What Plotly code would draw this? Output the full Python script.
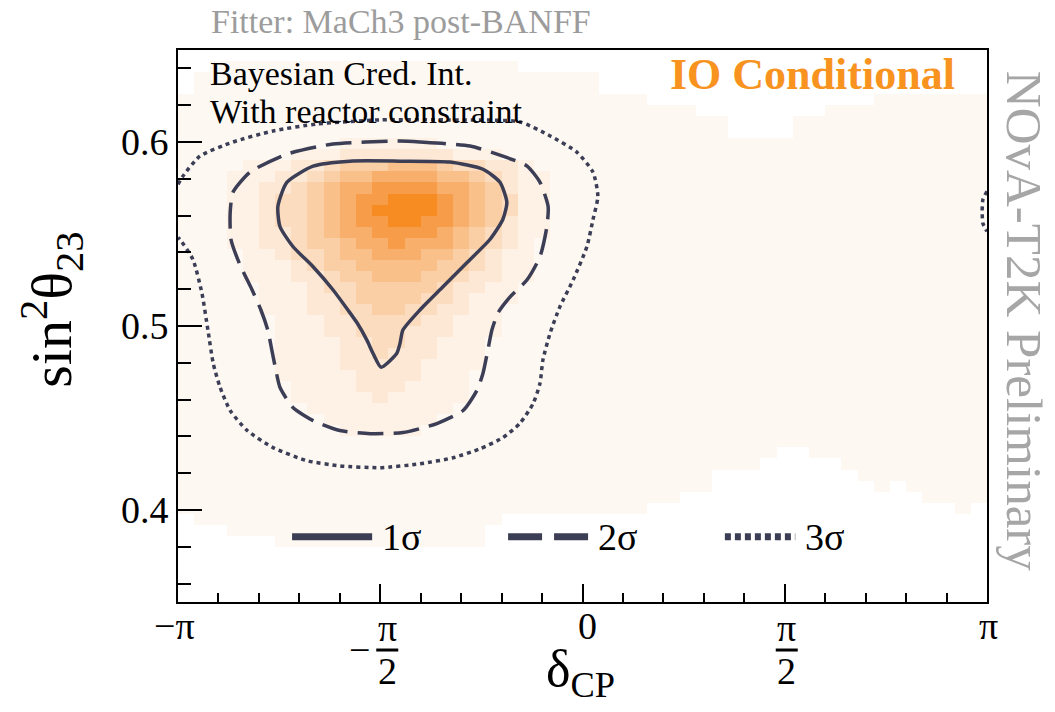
import numpy as np
import plotly.graph_objects as go

PI = np.pi

# Binned posterior: 50 x 50 bins, delta_CP in [-pi, pi], sin^2(theta_23) in [0.35, 0.65].
# Each character is a shade level, 0 = empty bin ... 9 = highest density.
# Rows go from the top bin (sin^2 0.644-0.650) down to the bottom bin (0.350-0.356),
# written in groups of ten bins.
density_rows = [
    "0000000000 0000000000 0000000000 0000000000 0000000000",
    "0011111111 1111111111 1000000000 0000000000 0000000000",
    "0111111111 1111111111 1111110000 0000000000 0000000000",
    "0111111111 1111111111 1111110000 0000000000 0000000000",
    "1111111111 1111111111 1111111110 0000000000 0001111111",
    "1111111111 1111111111 1111111111 1100000000 1111111111",
    "1111111111 1111111111 1111111111 1111000011 1111111111",
    "1111111111 1111111111 1111111111 1111000011 1111111111",
    "1111111111 2222221111 1111111111 1111111111 1111111111",
    "1111111222 3333333222 1111111111 1111111111 1111111111",
    "1111222334 5556665443 3211111111 1111111111 1111111111",
    "1112223345 6677776654 3221111111 1111111111 1111111111",
    "1112233456 7788887765 3221111111 1111111111 1111111111",
    "1112234456 7889998765 4221111111 1111111111 1111111111",
    "1112234456 7899998765 4221111111 1111111111 1111111111",
    "1112234456 7889988765 3221111111 1111111111 1111111111",
    "1112233456 7788887654 3221111111 1111111111 1111111111",
    "1112233455 6778777654 3211111111 1111111111 1111111111",
    "1111223445 6677766543 2211111111 1111111111 1111111111",
    "1111222345 5666665543 2211111111 1111111111 1111111111",
    "1111222334 5566655433 2211111111 1111111111 1111111111",
    "1111122234 4555554332 2111111111 1111111111 1111111111",
    "1111122233 4555544322 2111111111 1111111111 1111111111",
    "1111122233 4455443322 1111111111 1111111111 1111111111",
    "1111112223 3444433222 1111111111 1111111111 1111111111",
    "1111112223 3444333222 1111111111 1111111111 1111111111",
    "1111112222 3344332221 1111111111 1111111111 1111111111",
    "1111112222 3343332221 1111111111 1111111111 1111111111",
    "1111112222 3333322221 1111111111 1111111111 1111111111",
    "1111112222 2333322211 1111111111 1111111111 1111111111",
    "1111111222 2333222211 1111111111 1111111111 1111111111",
    "1111111222 2232222211 1111111111 1111111111 1111111111",
    "1111111122 2222222111 1111111111 1111111111 1111111111",
    "1111111112 2222221111 1111111111 1111111111 1111111111",
    "1111111111 2222211111 1111111111 1111111111 1111111111",
    "1111111111 1111111111 1111111111 1111111111 1111111111",
    "1111111111 1111111111 1111111111 1111111001 1111111111",
    "1111111111 1111111111 1111111111 1111110000 0111111111",
    "1111111111 1111111111 1111111111 1110000000 0011111111",
    "1111111111 1111111111 1111111111 1110000000 0001011111",
    "1111111111 1111111111 1111111111 1000000000 0000001111",
    "1111111111 1111111111 1111111110 0000000000 0000000010",
    "0111111111 1111111111 0000000000 0000000000 0000000000",
    "0001111111 1111111110 0000000000 0000000000 0000000000",
    "0000001111 1111111110 0000000000 0000000000 0000000000",
    "0000000000 0000000000 0000000000 0000000000 0000000000",
    "0000000000 0000000000 0000000000 0000000000 0000000000",
    "0000000000 0000000000 0000000000 0000000000 0000000000",
    "0000000000 0000000000 0000000000 0000000000 0000000000",
    "0000000000 0000000000 0000000000 0000000000 0000000000",
]

# Credible-interval contours; delta_CP given in units of pi.
sigma1_delta = [-0.451, -0.328, -0.246, -0.204, -0.187, -0.197, -0.229, -0.286, -0.345,
                -0.402, -0.444, -0.451, -0.459, -0.498, -0.518, -0.533, -0.557, -0.580,
                -0.617, -0.666, -0.716, -0.748, -0.753, -0.731, -0.666, -0.575, -0.451]
sigma1_s2 = [0.5896, 0.5891, 0.5852, 0.5781, 0.5672, 0.5579, 0.5470, 0.5344, 0.5213,
             0.5087, 0.4978, 0.4907, 0.4852, 0.4776, 0.4852, 0.4923, 0.5016, 0.5087,
             0.5197, 0.5322, 0.5432, 0.5541, 0.5650, 0.5781, 0.5869, 0.5896, 0.5896]

sigma2_delta = [-0.451, -0.402, -0.278, -0.197, -0.137, -0.105, -0.085, -0.088, -0.105,
                -0.137, -0.179, -0.209, -0.224, -0.234, -0.246, -0.261, -0.295, -0.360,
                -0.444, -0.525, -0.600, -0.666, -0.716, -0.748, -0.758, -0.768, -0.778,
                -0.795, -0.817, -0.847, -0.869, -0.871, -0.864, -0.822, -0.731, -0.617,
                -0.451]
sigma2_s2 = [0.6005, 0.6000, 0.5978, 0.5923, 0.5869, 0.5781, 0.5650, 0.5541, 0.5377,
             0.5251, 0.5158, 0.5071, 0.4978, 0.4869, 0.4743, 0.4650, 0.4541, 0.4470,
             0.4421, 0.4415, 0.4432, 0.4486, 0.4557, 0.4667, 0.4760, 0.4869, 0.4978,
             0.5087, 0.5197, 0.5333, 0.5470, 0.5617, 0.5727, 0.5836, 0.5934, 0.5989,
             0.6005]

sigma3_delta = [-1.000, -0.988, -0.946, -0.864, -0.765, -0.656, -0.501, -0.328, -0.155,
                -0.080, -0.014, 0.026, 0.038, 0.026, 0.011, -0.023, -0.056, -0.080,
                -0.098, -0.105, -0.122, -0.155, -0.197, -0.253, -0.320, -0.402, -0.501,
                -0.600, -0.681, -0.765, -0.829, -0.871, -0.896, -0.913, -0.926, -0.941,
                -0.963, -0.995, -1.000]
sigma3_s2 = [0.5770, 0.5814, 0.5923, 0.6000, 0.6060, 0.6098, 0.6120, 0.6120, 0.6109,
             0.6033, 0.5945, 0.5836, 0.5705, 0.5579, 0.5432, 0.5251, 0.5104, 0.4962,
             0.4814, 0.4689, 0.4579, 0.4470, 0.4393, 0.4333, 0.4284, 0.4251, 0.4230,
             0.4240, 0.4268, 0.4339, 0.4432, 0.4541, 0.4667, 0.4798, 0.4978, 0.5180,
             0.5361, 0.5470, 0.5481]

# the 3 sigma region wraps around delta_CP = +/- pi
sigma3_wrap_delta = [1.000, 0.990, 0.988, 0.990, 1.000]
sigma3_wrap_s2 = [0.5732, 0.5689, 0.5623, 0.5557, 0.5514]

shade_colors = ["#ffffff", "#fef8f3", "#fef1e6", "#fde8d5", "#fcdcbf",
                "#fbcfa6", "#fac08a", "#f9af6c", "#f79d4a", "#f68c22"]

N_BINS = 50
X_MIN, X_MAX = -PI, PI
Y_MIN, Y_MAX = 0.35, 0.65

z = [[int(c) for c in row.replace(" ", "")] for row in reversed(density_rows)]
x_centers = X_MIN + (np.arange(N_BINS) + 0.5) * (X_MAX - X_MIN) / N_BINS
y_centers = Y_MIN + (np.arange(N_BINS) + 0.5) * (Y_MAX - Y_MIN) / N_BINS

LINE_COLOR = "#3c3e56"
SERIF = "Liberation Serif"

fig = go.Figure()
fig.add_trace(go.Heatmap(
    x=x_centers, y=y_centers, z=z, zmin=0, zmax=9,
    colorscale=[[k / 9, c] for k, c in enumerate(shade_colors)],
    showscale=False, hoverinfo="skip",
))

contour_styles = [
    (sigma1_delta, sigma1_s2, "solid"),
    (sigma2_delta, sigma2_s2, "26px,10px"),
    (sigma3_delta, sigma3_s2, "4px,4px"),
    (sigma3_wrap_delta, sigma3_wrap_s2, "4px,4px"),
]
for dx, sy, dash in contour_styles:
    fig.add_trace(go.Scatter(
        x=np.array(dx) * PI, y=sy, mode="lines", showlegend=False, hoverinfo="skip",
        line=dict(color=LINE_COLOR, width=3.5, dash=dash, shape="spline", smoothing=0.6),
    ))

axis_font = dict(family=SERIF, size=38, color="black")
fig.update_xaxes(
    range=[X_MIN, X_MAX], showline=True, mirror=True, linecolor="black", linewidth=2,
    showgrid=False, zeroline=False, showticklabels=False,
    tickvals=[-PI, -PI / 2, 0, PI / 2, PI],
    ticks="inside", ticklen=18, tickwidth=1.5, tickcolor="black",
    minor=dict(dtick=PI / 10, tick0=-PI, ticks="inside", ticklen=9, tickwidth=1.5,
               tickcolor="black", showgrid=False),
)
fig.update_yaxes(
    range=[Y_MIN, Y_MAX], showline=True, mirror=True, linecolor="black", linewidth=2,
    showgrid=False, zeroline=False,
    tickvals=[0.4, 0.5, 0.6], ticktext=["0.4", "0.5", "0.6"],
    ticks="inside", ticklen=24, tickwidth=1.5, tickcolor="black", tickfont=axis_font,
    minor=dict(dtick=0.02, tick0=0.0, ticks="inside", ticklen=13, tickwidth=1.5,
               tickcolor="black", showgrid=False),
)

annotations = [
    dict(text="Fitter: MaCh3 post-BANFF", x=0.038, y=1.051, xref="paper", yref="paper",
         xanchor="left", yanchor="middle", showarrow=False,
         font=dict(family=SERIF, size=34, color="#9c9c9c")),
    dict(text="Bayesian Cred. Int.", x=0.037, y=0.958, xref="paper", yref="paper",
         xanchor="left", yanchor="middle", showarrow=False,
         font=dict(family=SERIF, size=34, color="black")),
    dict(text="With reactor constraint", x=0.037, y=0.888, xref="paper", yref="paper",
         xanchor="left", yanchor="middle", showarrow=False,
         font=dict(family=SERIF, size=34, color="black")),
    dict(text="<b>IO Conditional</b>", x=0.963, y=0.955, xref="paper", yref="paper",
         xanchor="right", yanchor="middle", showarrow=False,
         font=dict(family=SERIF, size=44, color="#f7931e")),
    dict(text="NOvA-T2K Preliminary", x=1.046, y=0.509, xref="paper", yref="paper",
         xanchor="center", yanchor="middle", textangle=90, showarrow=False,
         font=dict(family=SERIF, size=51, color="#a6a6a6")),
    dict(text="sin<sup>2</sup>\u03b8<sub>23</sub>", x=-0.156, y=0.529, xref="paper",
         yref="paper", xanchor="center", yanchor="middle", textangle=-90, showarrow=False,
         font=dict(family=SERIF, size=58, color="black")),
    dict(text="\u03b4<sub>CP</sub>", x=0.497, y=-0.127, xref="paper", yref="paper",
         xanchor="center", yanchor="middle", showarrow=False,
         font=dict(family=SERIF, size=52, color="black")),
]

# tick labels along delta_CP
label_y = -0.0435
for val, text, shift in [(-PI, "\u2212\u03c0", -4), (0, "0", 5), (PI, "\u03c0", 1)]:
    annotations.append(dict(text=text, x=val, xshift=shift, y=label_y, xref="x",
                            yref="paper", xanchor="center", yanchor="middle",
                            showarrow=False, font=axis_font))

# fraction tick labels at -pi/2 and pi/2
shapes = []
for val, sign, shift in [(-PI / 2, True, 7), (PI / 2, False, 2)]:
    annotations.append(dict(text="\u03c0", x=val, xshift=shift, y=-0.047, xref="x",
                            yref="paper", xanchor="center", yanchor="middle",
                            showarrow=False, font=axis_font))
    annotations.append(dict(text="2", x=val, xshift=shift, y=-0.125, xref="x",
                            yref="paper", xanchor="center", yanchor="middle",
                            showarrow=False, font=axis_font))
    shapes.append(dict(type="line", xref="x", yref="paper", xsizemode="pixel",
                       xanchor=val, x0=shift - 11, x1=shift + 11, y0=-0.087, y1=-0.087,
                       line=dict(color="black", width=3)))
    if sign:
        annotations.append(dict(text="\u2212", x=val, xshift=shift - 28, y=-0.087,
                                xref="x", yref="paper", xanchor="center",
                                yanchor="middle", showarrow=False, font=axis_font))

# legend
legend_y = 0.118
legend_items = [
    (0.141, 0.240, "solid", "1\u03c3"),
    (0.408, 0.507, "34px,12px", "2\u03c3"),
    (0.676, 0.763, "6px,4px", "3\u03c3"),
]
for x0, x1, dash, label in legend_items:
    shapes.append(dict(type="line", xref="paper", yref="paper", x0=x0, x1=x1,
                       y0=legend_y, y1=legend_y,
                       line=dict(color=LINE_COLOR, width=7, dash=dash)))
    annotations.append(dict(text=label, x=x1 + 0.01, y=legend_y, xref="paper",
                            yref="paper", xanchor="left", yanchor="middle",
                            showarrow=False, font=dict(family=SERIF, size=38,
                                                       color="black")))

fig.update_layout(
    width=1055, height=712,
    margin=dict(l=178, r=68, t=50, b=110),
    paper_bgcolor="white", plot_bgcolor="white",
    showlegend=False,
    annotations=annotations, shapes=shapes,
)

fig.write_html("out.html")
